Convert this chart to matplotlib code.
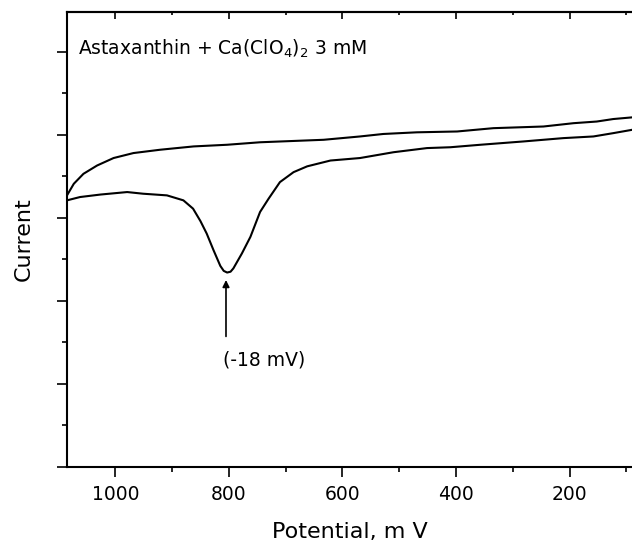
import matplotlib
matplotlib.use("Agg")
import matplotlib.pyplot as plt
from matplotlib.ticker import MultipleLocator, NullFormatter

# forward scan (with the reduction dip), potential in mV, current in arbitrary units
fwd_mv = [1085, 1062, 1026, 979, 951, 909, 880, 863, 850, 839, 827, 815, 809, 803,
          797, 792, 777, 762, 745, 730, 710, 686, 662, 621, 569, 510, 451, 410,
          357, 281, 211, 158, 123, 90]
fwd_cur = [3.21, 3.25, 3.28, 3.31, 3.29, 3.27, 3.21, 3.11, 2.96, 2.81, 2.61, 2.42, 2.36, 2.34,
           2.35, 2.39, 2.57, 2.77, 3.07, 3.23, 3.43, 3.55, 3.62, 3.69, 3.72, 3.79, 3.84, 3.85,
           3.88, 3.92, 3.96, 3.98, 4.02, 4.06]

# return scan
rev_mv = [1085, 1073, 1056, 1032, 1003, 968, 921, 862, 803, 745, 633, 569, 528,
          469, 398, 334, 246, 193, 152, 123, 90]
rev_cur = [3.27, 3.41, 3.53, 3.63, 3.72, 3.78, 3.82, 3.86, 3.88, 3.91, 3.94, 3.98, 4.01,
           4.03, 4.04, 4.08, 4.10, 4.14, 4.16, 4.19, 4.21]

peak_mv = 805
peak_label = "(-18 mV)"
title_txt = r"Astaxanthin + Ca(ClO$_4$)$_2$ 3 mM"

plt.rcParams['font.family'] = ['DejaVu Sans']

fig = plt.figure(figsize=(6.32, 5.43), dpi=100)
ax = fig.add_axes([67/632, 76.3/543, 1 - 67/632, 454.7/543])

ax.plot(fwd_mv, fwd_cur, color='black', lw=1.5)
ax.plot(rev_mv, rev_cur, color='black', lw=1.5)

ax.set_xlim(1085, 90)
ax.set_ylim(0, 5.48)

for s in ['left', 'bottom', 'top']:
    ax.spines[s].set_linewidth(1.5)
ax.spines['right'].set_visible(False)

ax.xaxis.set_major_locator(MultipleLocator(200))
ax.xaxis.set_minor_locator(MultipleLocator(100))
ax.yaxis.set_major_locator(MultipleLocator(1))
ax.yaxis.set_minor_locator(MultipleLocator(0.5))
ax.yaxis.set_major_formatter(NullFormatter())
ax.tick_params(which='major', direction='out', length=7.2, width=1.2, labelsize=13.5, pad=6)
ax.tick_params(which='minor', direction='out', length=3.6, width=1.2)

# top axis, ticks pointing inward, no labels
top = ax.secondary_xaxis('top')
top.xaxis.set_major_locator(MultipleLocator(200))
top.xaxis.set_minor_locator(MultipleLocator(100))
top.tick_params(which='major', direction='in', length=5, width=1.2, labeltop=False)
top.tick_params(which='minor', direction='in', length=2.5, width=1.2)
top.spines['top'].set_linewidth(1.5)

ax.set_xlabel("Potential, m V", fontsize=16, labelpad=13)
ax.set_ylabel("Current", fontsize=16, labelpad=11)

ax.text(1065, 4.96, title_txt, fontsize=13.5, va='baseline', ha='left')

ax.annotate("", xy=(peak_mv, 2.25), xytext=(peak_mv, 1.57),
            arrowprops=dict(arrowstyle='-|>', color='black', lw=1.2,
                            mutation_scale=10, shrinkA=0, shrinkB=0))
ax.text(810, 1.29, peak_label, fontsize=13.5, va='center', ha='left')

fig.savefig("out.png", dpi=100)
